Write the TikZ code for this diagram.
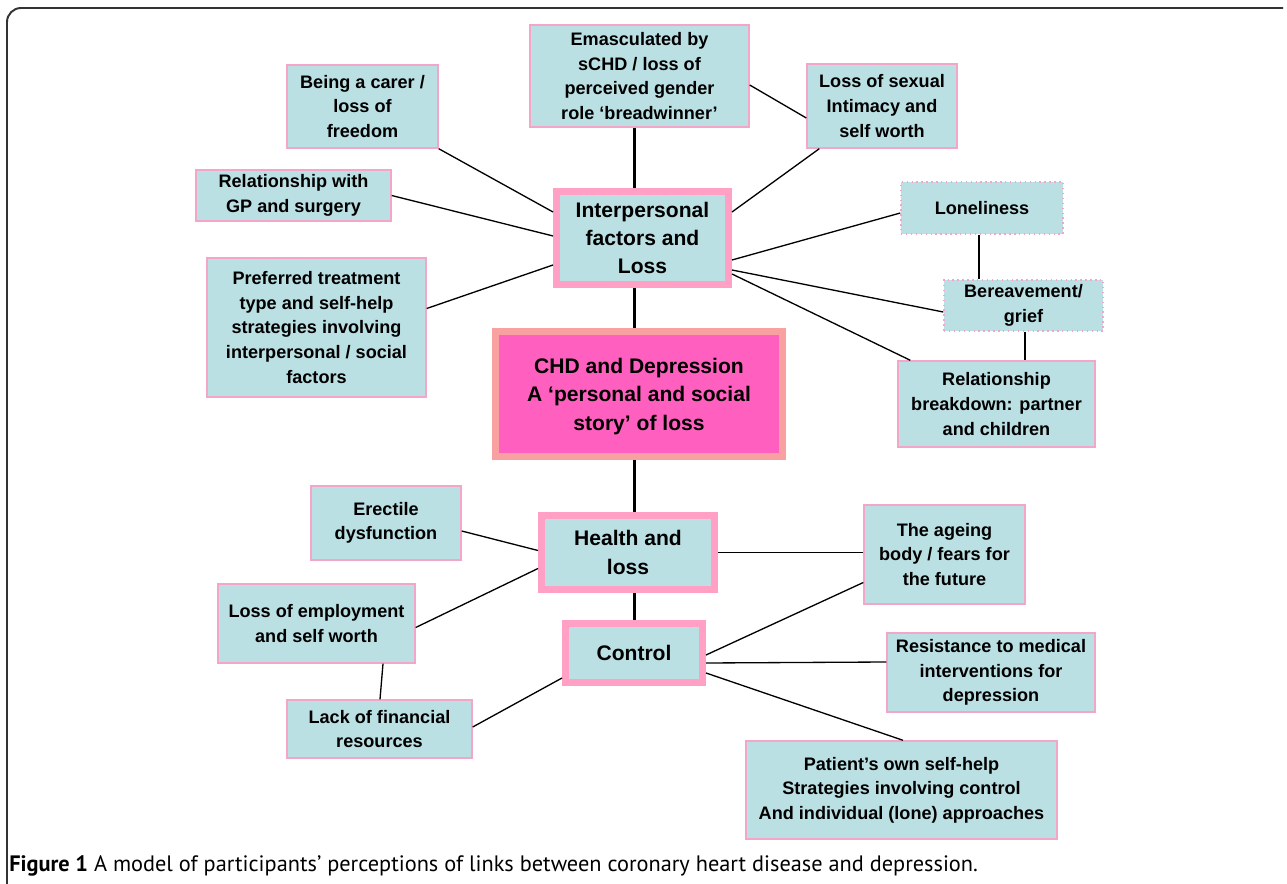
\documentclass[tikz,border=0pt]{standalone}
\usepackage{fontspec}
\setmainfont{Liberation Sans}
\newfontfamily\capfont{PT Sans}
\usetikzlibrary{positioning}
\usetikzlibrary{calc}

\definecolor{leafteal}{RGB}{187,224,228}
\definecolor{leafpink}{RGB}{244,166,200}
\definecolor{framepink}{RGB}{255,160,196}
\definecolor{corepink}{RGB}{255,95,190}
\definecolor{coreframe}{RGB}{249,160,160}

\tikzset{
  leaf/.style 2 args={draw=leafpink, fill=leafteal, line width=0.8pt,
    minimum width=#1*0.02cm, minimum height=#2*0.02cm, inner sep=0pt,
    align=center, font=\fontsize{10.3}{14}\selectfont\bfseries},
  dotleaf/.style 2 args={leaf={#1}{#2}, dotted},
  hub/.style 2 args={draw=framepink, fill=leafteal, line width=0.14cm,
    minimum width=#1*0.02cm, minimum height=#2*0.02cm, inner sep=0pt,
    align=center, font=\fontsize{12}{16.2}\selectfont\bfseries},
  link/.style={draw=black, line width=0.75pt},
  spine/.style={draw=black, line width=1.7pt}
}

\begin{document}
\begin{tikzpicture}[x=0.02cm, y=-0.02cm]
    \useasboundingbox (0,0) rectangle (1287,884);
    \draw[black!80, line width=1.1pt, rounded corners=8pt] (7,884) -- (7,8) -- (1283,8);

    % centre and the three hubs
    \node[hub={287}{125}, draw=coreframe, fill=corepink] (core) at (639,394)
        {\\[-5pt]CHD and Depression\\ A `personal and social\\ story' of loss};
    \node[hub={172}{93}] (inter) at (642.5,238) {Interpersonal\\ factors and\\ Loss};
    \node[hub={173}{74}] (health) at (628,552.5) {Health and\\ loss};
    \node[hub={137}{59}] (control) at (634,653) {Control};

    % interpersonal leaves
    \node[leaf={219}{102}] (emasc) at (639.5,76)
        {Emasculated by\\ sCHD / loss of\\ perceived gender\\ role `breadwinner'};
    \node[leaf={151}{83}] (carer) at (362.5,106.5) {Being a carer /\\ loss of\\ freedom};
    \node[leaf={150}{84}] (sexual) at (882,106) {Loss of sexual\\ Intimacy and\\ self worth};
    \node[leaf={195}{51}] (gp) at (293.5,195.5) {Relationship with\\ GP and surgery};
    \node[leaf={219}{139}] (pref) at (316.5,327.5)
        {Preferred treatment\\ type and self-help\\ strategies involving\\ interpersonal / social\\ factors};
    \node[dotleaf={162}{52}] (lonely) at (982,208) {Loneliness};
    \node[dotleaf={159}{51}] (bereave) at (1023.5,305.5) {Bereavement/\\ grief};
    \node[leaf={197}{86}] (breakdown) at (996.5,404)
        {Relationship\\ breakdown: partner\\ and children};

    % health and control leaves
    \node[leaf={150}{74}] (erectile) at (386,523) {Erectile\\ dysfunction};
    \node[leaf={197}{79}] (employ) at (316.5,623.5) {Loss of employment\\ and self worth};
    \node[leaf={185}{58}] (lack) at (379.5,729) {Lack of financial\\ resources};
    \node[leaf={161}{99}] (ageing) at (944.5,554.5) {The ageing\\ body / fears for\\ the future};
    \node[leaf={208}{79}] (resist) at (991,672.5)
        {Resistance to medical\\ interventions for\\ depression};
    \node[leaf={311}{98}] (patient) at (901.5,790)
        {Patient's own self-help\\ Strategies involving control\\ And individual (lone) approaches};

    % spine
    \draw[spine] ($(emasc.south)+(-5.5,0)$) -- ($(inter.north)+(-8.5,0)$);
    \draw[spine] ($(inter.south)+(-8.5,0)$) -- ($(core.north)+(-5,0)$);
    \draw[spine] ($(core.south)+(-5,0)$) -- ($(health.north)+(6,0)$);
    \draw[spine] ($(health.south)+(6,0)$) -- (control.north);

    % links to interpersonal
    \draw[link] (carer.south east) -- ($(inter.west)+(0,-26)$);
    \draw[link] (gp.east) -- ($(inter.west)+(0,-2)$);
    \draw[link] ($(pref.east)+(0,-19)$) -- ($(inter.west)+(0,27)$);
    \draw[link] ($(sexual.south west)+(13,0)$) -- ($(inter.east)+(0,-26)$);
    \draw[link] ($(emasc.east)+(0,9)$) -- ($(sexual.west)+(0,12)$);
    \draw[link] ($(lonely.west)+(0,5)$) -- ($(inter.east)+(0,22)$);
    \draw[link] ($(bereave.west)+(0,6.5)$) -- ($(inter.east)+(0,32)$);
    \draw[link] ($(breakdown.north west)+(13,0)$) -- ($(inter.east)+(0,36)$);
    \draw[link] ($(lonely.south)+(-3,0)$) -- ($(bereave.north)+(-44.5,0)$);
    \draw[link] ($(bereave.south)+(1.5,0)$) -- ($(breakdown.north)+(28.5,0)$);

    % links to health and control
    \draw[link] ($(erectile.east)+(0,8)$) -- ($(health.west)+(0,-2)$);
    \draw[link] ($(employ.east)+(0,4)$) -- ($(health.west)+(0,16)$);
    \draw[link] (health.east) -- (health.east -| ageing.west);
    \draw[link] ($(ageing.west)+(0,28)$) -- ($(control.east)+(0,2)$);
    \draw[link] ($(control.east)+(0,10)$) -- ($(resist.west)+(0,-10.5)$);
    \draw[link] ($(control.east)+(0,20)$) -- ($(patient.north)+(1.5,0)$);
    \draw[link] ($(lack.east)+(0,-2)$) -- ($(control.south west)+(0,-8)$);
    \draw[link] ($(employ.south)+(66.5,0)$) -- ($(lack.north)+(0.5,0)$);

    \node[anchor=base west, inner sep=0pt, font=\capfont\fontsize{12.7}{15}\selectfont] (caption) at (9,871)
        {\textbf{Figure 1} A model of participants’ perceptions of links between coronary heart disease and depression.};
\end{tikzpicture}
\end{document}
